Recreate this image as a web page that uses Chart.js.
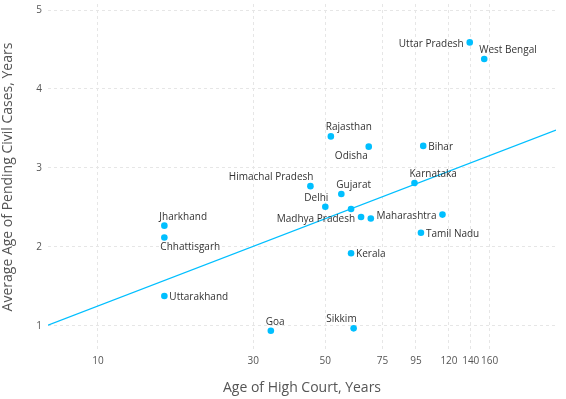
<!DOCTYPE html>
<html>
<head>
<meta charset="utf-8">
<script src="https://cdn.jsdelivr.net/npm/chart.js@4"></script>
<style>
html,body{margin:0;padding:0;background:#fff;}
#wrap{width:566px;height:399px;position:relative;}
</style>
</head>
<body>
<div id="wrap"><canvas id="c" width="566" height="399"></canvas></div>
<script>
const states = ["Uttar Pradesh","West Bengal","Rajasthan","Odisha","Bihar","Karnataka","Himachal Pradesh","Gujarat","Delhi","","Madhya Pradesh","","Maharashtra","Tamil Nadu","Kerala","Sikkim","Goa","Jharkhand","Chhattisgarh","Uttarakhand"];
const courtAge = [139,154,52,68,100,94,45,56,50,60,64.4,69,114.6,98.4,60,61.1,34,16,16,16];
const pendingAge = [4.59,4.38,3.40,3.27,3.28,2.81,2.77,2.67,2.51,2.48,2.38,2.36,2.41,2.18,1.92,0.97,0.94,2.27,2.12,1.38];
const labelSide = ["left","topright","topright","bottomleft","right","topright","topleft","topright","topleft","","left","","left","right","right","topleft","topright","topright","bottomright","right"];
const trendX = [7.02, 256];
const trendY = [1.01, 3.48];
const xTicks = [10,30,50,75,95,120,140,160];
const yTicks = [1,2,3,4,5];

const COLOR = '#00BFFF';
const FONT = '"Open Sans", "Noto Sans", sans-serif';

const labelPlugin = {
  id: 'pointLabels',
  afterDatasetsDraw(chart) {
    const ctx = chart.ctx;
    const meta = chart.getDatasetMeta(1);
    ctx.save();
    ctx.font = '10px ' + FONT;
    ctx.fillStyle = '#333';
    meta.data.forEach((el, i) => {
      const name = states[i];
      if (!name) return;
      const x = el.x, y = el.y;
      const side = labelSide[i];
      let tx = x, ty = y;
      ctx.textBaseline = 'middle';
      if (side === 'left') { ctx.textAlign = 'right'; tx = x - 6; ty = y + 2; }
      else if (side === 'right') { ctx.textAlign = 'left'; tx = x + 5; ty = y + 1; }
      else if (side === 'topright') { ctx.textAlign = 'left'; tx = x - 5; ty = y - 9; }
      else if (side === 'topleft') { ctx.textAlign = 'right'; tx = x + 3; ty = y - 9; }
      else if (side === 'bottomleft') { ctx.textAlign = 'right'; tx = x - 1; ty = y + 9; }
      else if (side === 'bottomright') { ctx.textAlign = 'left'; tx = x - 4; ty = y + 10; }
      ctx.fillText(name, tx, ty);
    });
    ctx.restore();
  }
};

new Chart(document.getElementById('c'), {
  type: 'scatter',
  data: {
    datasets: [
      {
        type: 'line',
        data: trendX.map((v, i) => ({x: v, y: trendY[i]})),
        borderColor: COLOR,
        borderWidth: 1.2,
        pointRadius: 0,
        fill: false,
        tension: 0
      },
      {
        data: courtAge.map((v, i) => ({x: v, y: pendingAge[i]})),
        backgroundColor: COLOR,
        borderColor: COLOR,
        pointRadius: 3.3,
        pointBorderWidth: 0
      }
    ]
  },
  options: {
    responsive: false,
    animation: false,
    layout: { padding: { left: 0, right: 10, top: 0, bottom: 0 } },
    plugins: { legend: { display: false }, tooltip: { enabled: false } },
    scales: {
      x: {
        type: 'logarithmic',
        min: 7.02,
        max: 256,
        afterBuildTicks(scale) { scale.ticks = xTicks.map(v => ({value: v})); },
        afterFit(scale) { scale.height = 49; },
        ticks: {
          autoSkip: false,
          maxRotation: 0,
          color: '#555',
          font: { size: 10, family: FONT },
          padding: 5,
          callback: (v) => String(v)
        },
        grid: { color: '#e6e6e6', drawTicks: false, tickLength: 0 },
        border: { display: false, dash: [3, 3] },
        title: {
          display: true,
          text: 'Age of High Court, Years',
          color: '#555',
          font: { size: 14, family: FONT },
          padding: { top: 0, bottom: 3 }
        }
      },
      y: {
        min: 0.696,
        max: 5.076,
        afterBuildTicks(scale) { scale.ticks = yTicks.map(v => ({value: v})); },
        afterFit(scale) { scale.width = 48; scale.paddingTop = 0; scale.paddingBottom = 0; },
        ticks: {
          color: '#555',
          font: { size: 10, family: FONT },
          padding: 6
        },
        grid: { color: '#e6e6e6', drawTicks: false, tickLength: 0 },
        border: { display: false, dash: [3, 3] },
        title: {
          display: true,
          text: 'Average Age of Pending Civil Cases, Years',
          color: '#555',
          font: { size: 14, family: FONT },
          padding: { top: 0, bottom: 4 }
        }
      }
    }
  },
  plugins: [labelPlugin]
});
</script>
</body>
</html>
